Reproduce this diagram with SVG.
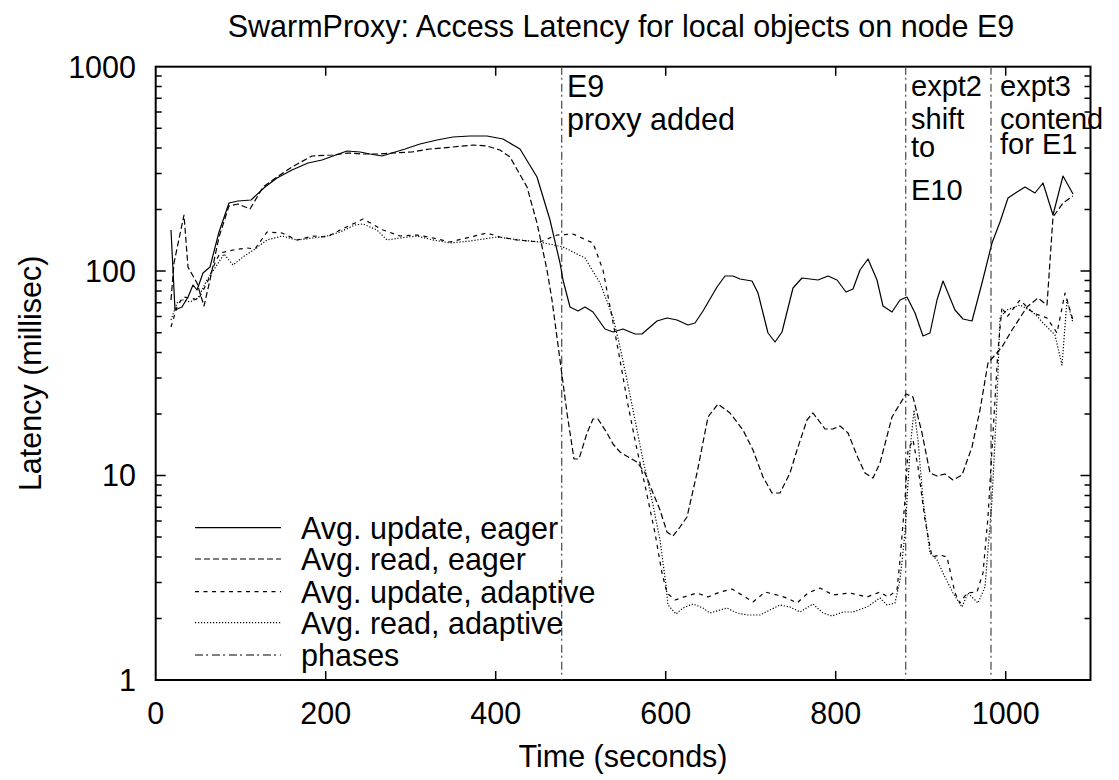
<svg xmlns="http://www.w3.org/2000/svg" width="1119" height="780" viewBox="0 0 1119 780">
<style>
text{font-family:"Liberation Sans",Arial,Helvetica,sans-serif;font-size:30.5px;fill:#000}
.frame{fill:none;stroke:#000;stroke-width:2}
.tick{fill:none;stroke:#000;stroke-width:1.5}
.s{fill:none;stroke:#000;stroke-width:1.2;stroke-linejoin:round}
.ue{}
.re{stroke-dasharray:6 3}
.ua{stroke-dasharray:4 4.5}
.ra{stroke-dasharray:1.2 1.8}
.ph{fill:none;stroke:#555;stroke-width:1.3;stroke-dasharray:8 3 2 4}
.r{text-anchor:end}
.m{text-anchor:middle}
.note{font-size:29px}
</style>
<rect width="1119" height="780" fill="#fff"/>
<text id="title" class="m" x="621" y="37">SwarmProxy: Access Latency for local objects on node E9</text>
<g id="axes">
<rect class="frame" x="155.7" y="66.7" width="934.8" height="613.3"/>
<path class="tick" d="M155.7,618.5h6M155.7,582.5h6M155.7,556.9h6M155.7,537.1h6M155.7,520.9h6M155.7,507.2h6M155.7,495.4h6M155.7,485h6M155.7,475.6h10M155.7,414.1h6M155.7,378.1h6M155.7,352.5h6M155.7,332.7h6M155.7,316.5h6M155.7,302.8h6M155.7,291h6M155.7,280.6h6M155.7,271.1h10M155.7,209.6h6M155.7,173.6h6M155.7,148h6M155.7,128.2h6M155.7,112h6M155.7,98.3h6M155.7,86.5h6M155.7,76.1h6"/>
<path class="tick" d="M1090.5,618.5h-6M1090.5,582.5h-6M1090.5,556.9h-6M1090.5,537.1h-6M1090.5,520.9h-6M1090.5,507.2h-6M1090.5,495.4h-6M1090.5,485h-6M1090.5,475.6h-10M1090.5,414.1h-6M1090.5,378.1h-6M1090.5,352.5h-6M1090.5,332.7h-6M1090.5,316.5h-6M1090.5,302.8h-6M1090.5,291h-6M1090.5,280.6h-6M1090.5,271.1h-10M1090.5,209.6h-6M1090.5,173.6h-6M1090.5,148h-6M1090.5,128.2h-6M1090.5,112h-6M1090.5,98.3h-6M1090.5,86.5h-6M1090.5,76.1h-6"/>
<path class="tick" d="M325.7,680v-9M495.7,680v-9M665.7,680v-9M835.7,680v-9M1005.7,680v-9M325.7,66.7v9M495.7,66.7v9M665.7,66.7v9M835.7,66.7v9M1005.7,66.7v9"/>
<g id="ylabels">
<text class="r" x="136" y="77.5">1000</text>
<text class="r" x="136" y="281.9">100</text>
<text class="r" x="136" y="486.3">10</text>
<text class="r" x="136" y="690.8">1</text>
</g>
<g id="xlabels">
<text class="m" x="155.7" y="724">0</text>
<text class="m" x="325.7" y="724">200</text>
<text class="m" x="495.7" y="724">400</text>
<text class="m" x="665.7" y="724">600</text>
<text class="m" x="835.7" y="724">800</text>
<text class="m" x="1005.7" y="724">1000</text>
</g>
<text id="xtitle" class="m" x="623" y="767">Time (seconds)</text>
<text id="ytitle" class="m" transform="translate(41,373.3) rotate(-90)">Latency (millisec)</text>
</g>
<g id="phases">
<path class="ph" d="M561.7,66.7V680M905.7,66.7V680M991,66.7V680"/>
<text x="567" y="97">E9<tspan x="567" y="130">proxy added</tspan></text>
<text class="note" x="911" y="96">expt2<tspan x="911" y="129">shift</tspan><tspan x="911" y="157">to</tspan><tspan x="911" y="200">E10</tspan></text>
<text class="note" x="1000" y="96">expt3<tspan x="1000" y="129">contend</tspan><tspan x="1000" y="154">for E1</tspan></text>
</g>
<g id="series">
<polyline id="update-eager" class="s ue" points="171,230 175,310 182,307 188,297 193,285 197,290 203,273 210,267 219,232 229,203 238,201 251,200 265,187 277,178 292,170 308,163 322,160 333,156 347,151 360,152 370,154 382,156 392,153 405,149 420,144 437,140 453,137 470,136 487,136 503,139 520,149 537,177 550,220 560,263 563,280 570,307 578,311 585,307 593,312 605,329 613,332 623,329 635,334 642,334 657,321 667,318 677,320 688,325 695,323 703,311 717,287 725,276 733,276 740,279 752,281 758,293 768,333 775,342 782,332 793,288 802,278 810,279 818,280 828,276 837,280 846,292 853,289 860,270 868,259 877,280 883,306 892,312 900,300 907,297 915,313 923,336 930,333 937,300 943,281 955,310 963,319 972,321 982,283 992,243 1000,222 1008,198 1017,192 1025,187 1035,193 1043,183 1053,215 1063,176 1073,194"/>
<polyline id="read-eager" class="s re" points="171,300 174,263 184,215 188,267 197,283 204,306 210,280 219,237 229,206 238,204 250,209 263,187 277,177 292,167 312,156 333,155 348,153 363,154 380,154 393,153 412,152 430,149 453,147 473,145 487,146 500,150 510,157 527,187 537,223 547,270 552,300 560,360 567,413 574,459 579,459 587,433 593,419 598,419 607,433 613,444 620,452 630,458 637,462 645,473 653,493 660,510 667,532 673,536 680,527 687,517 697,473 708,417 718,404 730,413 743,430 753,450 763,477 772,493 780,493 790,473 797,450 807,420 813,413 825,429 833,429 840,426 848,433 858,458 865,473 873,478 880,463 892,417 906,394 913,397 922,433 930,473 937,476 945,474 953,480 962,475 972,447 980,410 988,363 1002,347 1012,330 1027,307 1038,298 1047,305 1053,217 1063,203 1073,196"/>
<polyline id="update-adaptive" class="s ua" points="171,327 177,307 183,297 190,298 198,300 207,283 215,263 220,253 233,250 247,248 255,249 267,232 282,233 297,240 313,236 327,237 340,230 355,223 363,219 383,230 400,236 417,235 433,238 450,242 487,233 500,237 517,240 540,242 557,235 573,234 593,243 603,270 612,317 620,360 628,405 636,445 646,490 655,533 662,573 667,593 675,600 687,596 697,593 708,597 720,592 732,589 742,595 753,602 765,592 777,595 787,598 797,603 808,593 820,588 833,595 850,593 867,597 880,592 888,597 897,590 900,560 905,500 908,450 913,440 918,467 925,520 932,557 940,555 947,557 955,593 960,603 967,593 977,592 983,573 988,517 993,433 998,350 1002,307 1007,317 1020,300 1033,313 1047,318 1057,333 1065,293 1073,320"/>
<polyline id="read-adaptive" class="s ra" points="171,320 177,303 183,300 190,302 198,298 207,280 215,268 224,254 233,265 243,257 255,249 267,240 282,236 297,240 313,238 327,236 340,232 355,225 363,224 377,230 387,240 400,238 417,236 433,240 450,243 470,241 497,237 520,240 540,242 563,247 585,258 600,283 613,317 620,347 627,380 635,420 643,460 652,500 660,540 666,585 668,605 676,614 683,608 693,604 703,608 710,613 720,610 727,608 737,613 747,615 760,615 770,610 780,605 790,607 800,612 813,604 823,613 832,616 843,612 853,612 867,607 880,598 887,605 895,603 900,580 905,533 910,450 914,410 918,440 923,500 930,553 937,560 943,573 953,593 962,607 968,593 978,603 985,587 992,500 997,400 1000,317 1007,310 1020,305 1033,312 1045,325 1055,335 1062,365 1067,300 1073,323"/>
</g>
<g id="legend">
<line class="s ue" x1="195" y1="527.7" x2="281" y2="527.7"/>
<text x="301" y="538.5">Avg. update, eager</text>
<line class="s re" x1="195" y1="559" x2="281" y2="559"/>
<text x="301" y="569.8">Avg. read, eager</text>
<line class="s ua" x1="195" y1="591.7" x2="281" y2="591.7"/>
<text x="301" y="602.5">Avg. update, adaptive</text>
<line class="s ra" x1="195" y1="622.7" x2="281" y2="622.7"/>
<text x="301" y="633.5">Avg. read, adaptive</text>
<line class="ph" x1="195" y1="655" x2="281" y2="655"/>
<text x="301" y="665.8">phases</text>
</g>
</svg>
